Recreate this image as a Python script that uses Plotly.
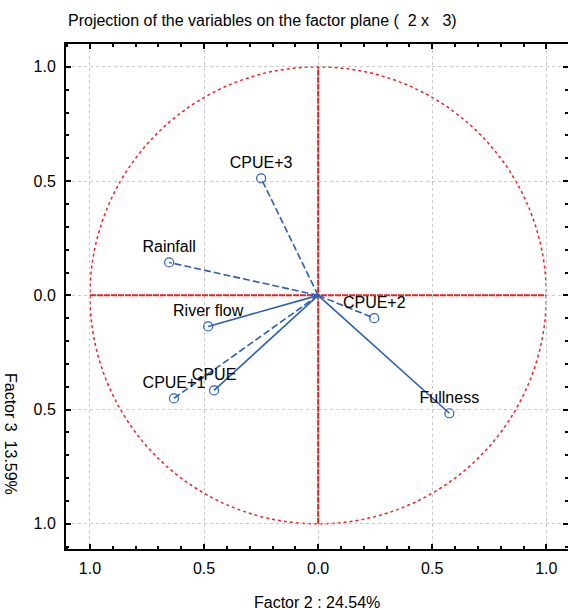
import plotly.graph_objects as go

# ---- data ----
variables = ["CPUE+3", "Rainfall", "River flow", "CPUE+1", "CPUE", "CPUE+2", "Fullness"]
factor2 = [-0.250, -0.653, -0.482, -0.632, -0.456, 0.246, 0.575]
factor3 = [0.512, 0.144, -0.136, -0.451, -0.416, -0.100, -0.516]
tick_vals = [-1.0, -0.5, 0.0, 0.5, 1.0]
tick_text = ["1.0", "0.5", "0.0", "0.5", "1.0"]
dashed_vars = {"CPUE+3", "Rainfall", "CPUE+1", "CPUE+2"}

BLUE = "#2b5fb5"
RED = "#ee2222"
FONT = "Liberation Sans, Arial, sans-serif"

W, H = 568, 610
ML, MR, MT, MB = 66, 0, 44, 61
PW, PH = W - ML - MR, H - MT - MB

fig = go.Figure()

# unit circle
fig.add_shape(type="circle", x0=-1, y0=-1, x1=1, y1=1, xref="x", yref="y",
              line=dict(color=RED, width=1.5, dash="dot"), layer="below")

# red cross axes (as traces so they sit under vectors)
fig.add_trace(go.Scatter(x=[-1, 1], y=[0, 0], mode="lines",
                         line=dict(color=RED, width=2, dash="6px,1px"),
                         hoverinfo="skip", showlegend=False))
fig.add_trace(go.Scatter(x=[0, 0], y=[-1, 1], mode="lines",
                         line=dict(color=RED, width=2, dash="6px,1px"),
                         hoverinfo="skip", showlegend=False))

# vectors from origin
for name, xv, yv in zip(variables, factor2, factor3):
    fig.add_trace(go.Scatter(
        x=[0, xv], y=[0, yv], mode="lines",
        line=dict(color=BLUE, width=1.6, dash="7px,3px" if name in dashed_vars else "solid"),
        hoverinfo="skip", showlegend=False))

# end points + labels
fig.add_trace(go.Scatter(
    x=factor2, y=factor3, mode="markers+text", text=variables,
    textposition="top center",
    textfont=dict(family=FONT, size=16, color="black"),
    marker=dict(symbol="circle-open", size=9, color=BLUE, line=dict(width=1.2, color=BLUE)),
    showlegend=False))

axis_common = dict(
    tickmode="array", tickvals=tick_vals, ticktext=tick_text,
    showgrid=True, gridcolor="#c8c8c8", griddash="dot", gridwidth=1,
    zeroline=False, showline=True, linecolor="black", linewidth=2, mirror="ticks",
    ticks="inside", ticklen=5, tickcolor="black", tickwidth=1.5,
    minor=dict(ticks="inside", ticklen=3, tickcolor="black", tick0=0, dtick=0.1, showgrid=False),
    tickfont=dict(family=FONT, size=16, color="black"),
    fixedrange=True, automargin=False,
)

fig.update_xaxes(**axis_common, range=[-1.105, 1.095], ticklabelstandoff=4)
fig.update_yaxes(**axis_common, range=[-1.11, 1.10], ticklabelstandoff=5)

# axis titles placed at reference pixel positions
fig.add_annotation(text="Factor 2 : 24.54%", x=(317 - ML) / PW, y=(H - MB - 602) / PH,
                   xref="paper", yref="paper", showarrow=False, xanchor="center", yanchor="middle",
                   font=dict(family=FONT, size=16, color="black"))
fig.add_annotation(text="Factor 3  13.59%", textangle=90, x=(11 - ML) / PW, y=(H - MB - 434) / PH,
                   xref="paper", yref="paper", showarrow=False, xanchor="center", yanchor="middle",
                   font=dict(family=FONT, size=16, color="black"))

fig.update_layout(
    width=W, height=H,
    margin=dict(l=ML, r=MR, t=MT, b=MB, autoexpand=False),
    plot_bgcolor="white", paper_bgcolor="white",
    title=dict(text="Projection of the variables on the factor plane (  2 x   3)",
               x=68 / W, xanchor="left", y=1 - 20 / H, yanchor="middle",
               font=dict(family=FONT, size=16, color="black")),
)

fig.write_html("out.html", config={"displayModeBar": False},
               post_script="document.body.style.margin='0';")
